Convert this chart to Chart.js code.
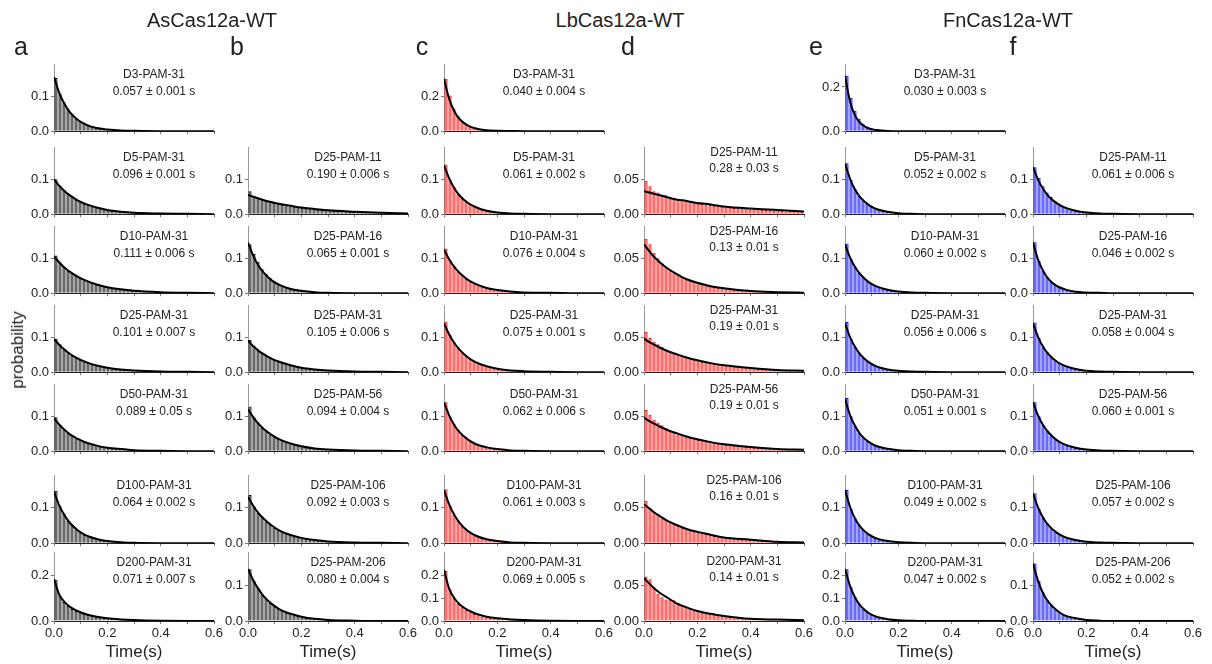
<!DOCTYPE html>
<html>
<head>
<meta charset="utf-8">
<script src="https://cdn.jsdelivr.net/npm/chart.js@4.4.1/dist/chart.umd.min.js"></script>
<style>
  body { margin: 0; background: #fff; }
  #fig { position: relative; width: 1212px; height: 664px; overflow: hidden; background: #fff;
         font-family: Arial, "Liberation Sans", sans-serif; color: #222; }
  .txt { position: absolute; white-space: nowrap; transform: translateX(-50%); text-align: center; }
  .lbl { font-size: 12px; line-height: 14px; }
  .head { font-family: "Liberation Sans Narrow", Arial, sans-serif; font-size: 20px; line-height: 24px; }
  .letter { font-size: 25px; line-height: 26px; }
  .axt { font-size: 17px; line-height: 18px; }
</style>
</head>
<body>
<div id="fig"></div>
<script>
// x categories: histogram bin centres (s) and the times where the fit curve is read
const binCenters = [0.0075, 0.0225, 0.0375, 0.0525, 0.0675, 0.0825, 0.0975, 0.1125, 0.1275, 0.1425,
  0.1575, 0.1725, 0.1875, 0.2025, 0.2175, 0.2325, 0.2475, 0.2625, 0.2775, 0.2925,
  0.3075, 0.3225, 0.3375, 0.3525, 0.3675, 0.3825, 0.3975, 0.4125, 0.4275, 0.4425,
  0.4575, 0.4725, 0.4875, 0.5025, 0.5175, 0.5325, 0.5475, 0.5625, 0.5775, 0.5925];
const fitTimes = [0, 0.02, 0.04, 0.06, 0.09, 0.12, 0.16, 0.2, 0.25, 0.3, 0.4, 0.5, 0.6];
const xTickLabels = ['0.0', '0.2', '0.4', '0.6'];

// AsCas12a-WT (a, b)
const barsA1 = [0.152,0.108,0.082,0.063,0.049,0.036,0.029,0.022,0.017,0.013,0.010,0.008,0.006,0.005,0.004,0.003,0.002,0.002,0.002,0.001,0.001,0.001,0.001,0.001,0,0.001,0,0.001,0,0.001,0,0,0.001,0,0,0,0,0.001,0,0];
const barsA2 = [0.100,0.082,0.070,0.059,0.051,0.041,0.037,0.030,0.027,0.022,0.020,0.016,0.014,0.012,0.010,0.009,0.008,0.006,0.006,0.005,0.004,0.004,0.003,0.003,0.002,0.002,0.002,0.001,0.001,0.001,0.001,0.001,0.001,0,0.001,0,0,0.001,0,0];
const barsA3 = [0.108,0.088,0.076,0.064,0.058,0.049,0.045,0.037,0.034,0.029,0.026,0.022,0.020,0.017,0.015,0.013,0.011,0.010,0.009,0.007,0.007,0.006,0.005,0.004,0.004,0.003,0.003,0.003,0.002,0.002,0.002,0.002,0.001,0.001,0.001,0.001,0.001,0.001,0.001,0];
const barsA4 = [0.096,0.080,0.064,0.058,0.047,0.043,0.035,0.032,0.026,0.024,0.019,0.018,0.014,0.013,0.011,0.010,0.008,0.007,0.006,0.005,0.005,0.004,0.003,0.003,0.003,0.002,0.002,0.002,0.001,0.001,0.001,0.001,0.001,0.001,0,0.001,0,0,0.001,0];
const barsA5 = [0.097,0.076,0.063,0.052,0.046,0.037,0.033,0.026,0.023,0.019,0.017,0.013,0.012,0.010,0.008,0.007,0.006,0.005,0.004,0.004,0.003,0.003,0.002,0.002,0.002,0.001,0.001,0.001,0.001,0.001,0.001,0,0.001,0,0,0.001,0,0,0,0];
const barsA6 = [0.148,0.104,0.084,0.063,0.052,0.039,0.033,0.024,0.020,0.015,0.013,0.010,0.008,0.006,0.005,0.004,0.003,0.003,0.002,0.002,0.001,0.001,0.001,0.001,0.001,0,0.001,0,0.001,0,0,0.001,0,0,0,0.001,0,0,0,0];
const barsA7 = [0.182,0.112,0.084,0.066,0.053,0.044,0.037,0.031,0.026,0.022,0.018,0.015,0.013,0.011,0.009,0.008,0.007,0.006,0.005,0.004,0.004,0.003,0.003,0.002,0.002,0.002,0.001,0.001,0.001,0.001,0.001,0.001,0.001,0,0.001,0,0,0.001,0,0];
const barsB2 = [0.066,0.052,0.046,0.044,0.038,0.037,0.032,0.031,0.027,0.027,0.023,0.022,0.021,0.018,0.018,0.016,0.015,0.013,0.013,0.012,0.011,0.010,0.009,0.009,0.008,0.007,0.007,0.006,0.006,0.005,0.005,0.004,0.004,0.004,0.004,0.003,0.003,0.003,0.003,0.002];
const barsB3 = [0.140,0.112,0.090,0.070,0.056,0.044,0.035,0.027,0.022,0.017,0.014,0.011,0.009,0.007,0.005,0.004,0.003,0.003,0.002,0.002,0.001,0.001,0.001,0.001,0.001,0.001,0,0.001,0,0.001,0,0,0.001,0,0,0,0,0,0,0];
const barsB4 = [0.092,0.076,0.062,0.056,0.047,0.042,0.035,0.032,0.026,0.024,0.020,0.018,0.015,0.013,0.012,0.010,0.009,0.007,0.007,0.006,0.005,0.004,0.004,0.003,0.003,0.002,0.002,0.002,0.002,0.001,0.001,0.001,0.001,0.001,0.001,0.001,0,0,0.001,0];
const barsB5 = [0.128,0.097,0.082,0.067,0.060,0.048,0.043,0.035,0.031,0.026,0.023,0.019,0.017,0.014,0.012,0.010,0.009,0.007,0.006,0.005,0.005,0.004,0.003,0.003,0.002,0.002,0.002,0.001,0.001,0.001,0.001,0.001,0.001,0.001,0,0,0.001,0,0,0];
const barsB6 = [0.136,0.104,0.086,0.075,0.061,0.054,0.044,0.039,0.032,0.028,0.023,0.020,0.017,0.014,0.012,0.010,0.009,0.007,0.006,0.005,0.005,0.004,0.003,0.003,0.002,0.002,0.002,0.001,0.001,0.001,0.001,0.001,0.001,0,0.001,0,0,0.001,0,0];
const barsB7 = [0.144,0.112,0.092,0.074,0.063,0.050,0.044,0.035,0.030,0.024,0.021,0.016,0.014,0.012,0.010,0.008,0.007,0.005,0.005,0.004,0.003,0.003,0.002,0.002,0.002,0.001,0.001,0.001,0.001,0.001,0,0.001,0,0,0.001,0,0,0,0,0];

const fitA1 = [0.155,0.109,0.077,0.054,0.032,0.019,0.009,0.005,0.002,0.001,0,0,0];
const fitA2 = [0.100,0.081,0.066,0.054,0.039,0.029,0.019,0.012,0.007,0.004,0.002,0.001,0];
const fitA3 = [0.105,0.088,0.073,0.061,0.047,0.036,0.025,0.017,0.011,0.007,0.003,0.001,0];
const fitA4 = [0.095,0.078,0.064,0.052,0.039,0.029,0.019,0.013,0.008,0.005,0.002,0.001,0];
const fitA5 = [0.095,0.076,0.061,0.048,0.035,0.025,0.016,0.010,0.006,0.003,0.001,0,0];
const fitA6 = [0.145,0.106,0.078,0.057,0.036,0.022,0.012,0.006,0.003,0.001,0,0,0];
const fitA7 = [0.185,0.115,0.083,0.062,0.043,0.030,0.019,0.012,0.007,0.004,0.001,0,0];
const fitB2 = [0.055,0.050,0.045,0.040,0.034,0.029,0.024,0.019,0.015,0.011,0.007,0.004,0.002];
const fitB3 = [0.145,0.107,0.078,0.058,0.036,0.023,0.012,0.007,0.003,0.001,0,0,0];
const fitB4 = [0.090,0.074,0.061,0.051,0.038,0.029,0.020,0.013,0.008,0.005,0.002,0.001,0];
const fitB5 = [0.120,0.097,0.078,0.063,0.046,0.033,0.022,0.014,0.008,0.005,0.002,0.001,0];
const fitB6 = [0.130,0.105,0.084,0.068,0.049,0.035,0.023,0.015,0.009,0.005,0.002,0.001,0];
const fitB7 = [0.145,0.113,0.088,0.068,0.047,0.032,0.020,0.012,0.006,0.003,0.001,0,0];

// LbCas12a-WT (c, d)
const barsC1 = [0.300,0.205,0.130,0.088,0.058,0.040,0.027,0.019,0.013,0.009,0.006,0.004,0.003,0.002,0.002,0.001,0.001,0.001,0.001,0.001,0,0.001,0,0.001,0,0,0.001,0,0,0,0.001,0,0,0,0,0,0.001,0,0,0];
const barsC2 = [0.142,0.100,0.078,0.060,0.047,0.036,0.029,0.022,0.018,0.013,0.011,0.008,0.007,0.005,0.004,0.003,0.003,0.002,0.002,0.001,0.001,0.001,0.001,0.001,0,0.001,0,0.001,0,0,0.001,0,0,0,0,0.001,0,0,0,0];
const barsC3 = [0.128,0.095,0.077,0.062,0.052,0.041,0.035,0.028,0.024,0.019,0.016,0.013,0.011,0.009,0.007,0.006,0.005,0.004,0.003,0.003,0.002,0.002,0.002,0.001,0.001,0.001,0.001,0.001,0,0.001,0,0,0.001,0,0,0,0.001,0,0,0];
const barsC4 = [0.145,0.108,0.086,0.070,0.058,0.046,0.039,0.031,0.026,0.021,0.018,0.014,0.012,0.009,0.008,0.006,0.005,0.004,0.004,0.003,0.002,0.002,0.002,0.001,0.001,0.001,0.001,0.001,0.001,0,0.001,0,0,0.001,0,0,0,0,0.001,0];
const barsC5 = [0.140,0.099,0.078,0.061,0.046,0.038,0.029,0.023,0.018,0.014,0.011,0.009,0.007,0.005,0.004,0.003,0.003,0.002,0.002,0.001,0.001,0.001,0.001,0.001,0.001,0,0.001,0,0,0.001,0,0,0,0.001,0,0,0,0,0,0];
const barsC6 = [0.152,0.106,0.080,0.065,0.049,0.040,0.030,0.024,0.018,0.015,0.011,0.009,0.007,0.006,0.004,0.003,0.003,0.002,0.002,0.001,0.001,0.001,0.001,0.001,0.001,0.001,0,0,0.001,0,0,0.001,0,0,0,0,0,0.001,0,0];
const barsC7 = [0.220,0.140,0.100,0.076,0.060,0.048,0.039,0.031,0.025,0.020,0.016,0.013,0.011,0.009,0.007,0.006,0.005,0.004,0.003,0.003,0.002,0.002,0.002,0.001,0.001,0.001,0.001,0.001,0.001,0,0.001,0,0,0.001,0,0,0,0.001,0,0];
const barsD2 = [0.048,0.040,0.033,0.031,0.028,0.027,0.025,0.023,0.022,0.020,0.019,0.018,0.017,0.015,0.015,0.014,0.013,0.012,0.012,0.011,0.010,0.010,0.009,0.009,0.008,0.008,0.007,0.007,0.007,0.006,0.006,0.006,0.005,0.005,0.005,0.004,0.005,0.004,0.004,0.004];
const barsD3 = [0.078,0.070,0.058,0.050,0.043,0.038,0.033,0.030,0.027,0.023,0.021,0.019,0.016,0.015,0.013,0.012,0.010,0.009,0.008,0.007,0.007,0.006,0.005,0.005,0.004,0.004,0.003,0.003,0.003,0.002,0.002,0.002,0.002,0.001,0.001,0.001,0.001,0.001,0.001,0.001];
const barsD4 = [0.058,0.049,0.044,0.040,0.036,0.032,0.030,0.027,0.025,0.023,0.021,0.020,0.018,0.017,0.015,0.014,0.013,0.012,0.011,0.010,0.010,0.009,0.008,0.008,0.007,0.007,0.006,0.006,0.005,0.005,0.004,0.004,0.004,0.004,0.003,0.003,0.003,0.003,0.002,0.002];
const barsD5 = [0.059,0.052,0.045,0.041,0.037,0.033,0.029,0.028,0.024,0.023,0.021,0.019,0.018,0.016,0.016,0.014,0.013,0.012,0.011,0.011,0.009,0.009,0.008,0.007,0.007,0.006,0.006,0.005,0.005,0.005,0.004,0.004,0.004,0.003,0.003,0.003,0.003,0.002,0.002,0.002];
const barsD6 = [0.060,0.050,0.044,0.040,0.035,0.033,0.030,0.027,0.025,0.022,0.021,0.018,0.017,0.015,0.014,0.013,0.012,0.010,0.010,0.009,0.008,0.007,0.007,0.006,0.005,0.005,0.005,0.004,0.004,0.003,0.003,0.003,0.003,0.002,0.002,0.002,0.002,0.002,0.001,0.001];
const barsD7 = [0.062,0.058,0.047,0.038,0.033,0.030,0.030,0.029,0.025,0.022,0.020,0.017,0.015,0.014,0.012,0.011,0.010,0.009,0.008,0.008,0.007,0.006,0.006,0.005,0.004,0.004,0.004,0.003,0.003,0.003,0.002,0.002,0.002,0.002,0.002,0.001,0.001,0.001,0.001,0.001];

const fitC1 = [0.300,0.182,0.110,0.067,0.032,0.015,0.005,0.002,0.001,0,0,0,0];
const fitC2 = [0.140,0.101,0.073,0.052,0.032,0.020,0.010,0.005,0.002,0.001,0,0,0];
const fitC3 = [0.125,0.096,0.074,0.057,0.038,0.026,0.015,0.009,0.005,0.002,0.001,0,0];
const fitC4 = [0.140,0.107,0.082,0.063,0.042,0.028,0.017,0.010,0.005,0.003,0.001,0,0];
const fitC5 = [0.140,0.101,0.073,0.053,0.033,0.020,0.011,0.006,0.002,0.001,0,0,0];
const fitC6 = [0.150,0.108,0.078,0.056,0.034,0.021,0.011,0.006,0.002,0.001,0,0,0];
const fitC7 = [0.225,0.140,0.098,0.072,0.048,0.032,0.019,0.012,0.007,0.004,0.001,0,0];
const fitD2 = [0.033,0.031,0.029,0.027,0.024,0.021,0.019,0.016,0.014,0.011,0.008,0.006,0.004];
const fitD3 = [0.070,0.060,0.051,0.044,0.035,0.028,0.020,0.015,0.010,0.007,0.003,0.0015,0.0007];
const fitD4 = [0.048,0.043,0.039,0.035,0.030,0.026,0.021,0.017,0.013,0.010,0.006,0.003,0.002];
const fitD5 = [0.048,0.043,0.039,0.035,0.030,0.026,0.021,0.017,0.013,0.010,0.006,0.003,0.002];
const fitD6 = [0.055,0.049,0.043,0.038,0.031,0.026,0.020,0.016,0.012,0.008,0.005,0.002,0.001];
const fitD7 = [0.060,0.052,0.045,0.039,0.032,0.025,0.019,0.014,0.010,0.007,0.003,0.002,0.001];

// FnCas12a-WT (e, f)
const barsE1 = [0.250,0.150,0.092,0.056,0.034,0.021,0.013,0.008,0.005,0.003,0.003,0.002,0.002,0.002,0.001,0.002,0.001,0.001,0.001,0.001,0.001,0.001,0,0.001,0.001,0,0.001,0,0,0.001,0,0.001,0,0,0.001,0,0,0,0,0.001];
const barsE2 = [0.146,0.098,0.072,0.052,0.040,0.030,0.022,0.017,0.013,0.009,0.007,0.005,0.004,0.003,0.002,0.002,0.001,0.002,0.001,0.001,0.001,0.001,0.001,0,0.001,0,0.001,0,0,0.001,0,0,0.001,0,0,0,0,0,0.001,0];
const barsE3 = [0.142,0.098,0.076,0.058,0.046,0.035,0.028,0.021,0.017,0.013,0.010,0.008,0.006,0.005,0.004,0.003,0.002,0.002,0.001,0.001,0.001,0.001,0.001,0.001,0,0.001,0,0,0.001,0,0,0.001,0,0,0,0,0.001,0,0,0];
const barsE4 = [0.144,0.096,0.072,0.055,0.042,0.032,0.025,0.019,0.014,0.011,0.008,0.006,0.005,0.004,0.003,0.002,0.002,0.001,0.001,0.001,0.001,0.001,0,0.001,0.001,0,0.001,0,0,0.001,0,0,0,0.001,0,0,0,0,0,0];
const barsE5 = [0.152,0.100,0.073,0.053,0.041,0.029,0.023,0.016,0.013,0.009,0.007,0.005,0.004,0.003,0.002,0.002,0.001,0.001,0.001,0.001,0.001,0,0.001,0.001,0,0.001,0,0,0.001,0,0,0,0.001,0,0,0,0,0,0,0];
const barsE6 = [0.150,0.097,0.070,0.052,0.037,0.028,0.021,0.015,0.011,0.008,0.006,0.005,0.003,0.003,0.002,0.002,0.001,0.001,0.001,0.001,0.001,0.001,0,0.001,0,0.001,0,0,0.001,0,0,0.001,0,0,0,0,0,0.001,0,0];
const barsE7 = [0.228,0.150,0.106,0.076,0.055,0.040,0.029,0.021,0.015,0.011,0.008,0.006,0.004,0.003,0.002,0.002,0.001,0.001,0.001,0.001,0.001,0,0.001,0.001,0,0,0.001,0,0,0.001,0,0,0,0,0.001,0,0,0,0,0];
const barsF2 = [0.134,0.104,0.080,0.062,0.049,0.038,0.030,0.023,0.018,0.014,0.011,0.009,0.007,0.005,0.004,0.004,0.003,0.002,0.002,0.003,0.002,0.001,0.001,0.001,0.001,0.001,0.001,0,0.001,0.001,0,0,0.001,0,0,0.001,0,0,0,0];
const barsF3 = [0.146,0.092,0.065,0.047,0.033,0.024,0.018,0.013,0.009,0.007,0.005,0.003,0.003,0.002,0.001,0.001,0.001,0.001,0.001,0,0.001,0.001,0,0.001,0,0,0.001,0,0,0.001,0,0,0,0.001,0,0,0,0,0,0];
const barsF4 = [0.142,0.098,0.074,0.057,0.044,0.034,0.026,0.020,0.016,0.012,0.009,0.007,0.006,0.004,0.003,0.003,0.002,0.002,0.001,0.001,0.001,0.001,0.001,0,0.001,0,0.001,0,0.001,0,0,0.001,0,0,0,0,0.001,0,0,0];
const barsF5 = [0.140,0.100,0.075,0.059,0.045,0.036,0.027,0.022,0.016,0.013,0.010,0.008,0.006,0.005,0.004,0.003,0.002,0.002,0.002,0.001,0.001,0.001,0.001,0,0.001,0.001,0,0,0.001,0,0,0.001,0,0,0,0.001,0,0,0,0];
const barsF6 = [0.141,0.097,0.073,0.056,0.043,0.033,0.025,0.020,0.015,0.012,0.009,0.007,0.005,0.004,0.003,0.003,0.002,0.001,0.001,0.001,0.001,0.001,0.001,0,0.001,0,0,0.001,0,0,0.001,0,0,0,0.001,0,0,0,0,0];
const barsF7 = [0.160,0.112,0.080,0.059,0.044,0.033,0.025,0.018,0.014,0.010,0.008,0.006,0.004,0.003,0.003,0.002,0.002,0.001,0.001,0.001,0.001,0.001,0,0.001,0,0.001,0,0,0.001,0,0,0,0.001,0,0,0,0,0,0,0];

const fitE1 = [0.250,0.128,0.066,0.034,0.012,0.005,0.001,0,0,0,0,0,0];
const fitE2 = [0.145,0.099,0.067,0.046,0.026,0.014,0.007,0.003,0.001,0,0,0,0];
const fitE3 = [0.140,0.100,0.072,0.052,0.031,0.019,0.010,0.005,0.002,0.001,0,0,0];
const fitE4 = [0.140,0.098,0.069,0.048,0.028,0.016,0.008,0.004,0.002,0.001,0,0,0];
const fitE5 = [0.150,0.101,0.069,0.046,0.026,0.014,0.007,0.003,0.001,0,0,0,0];
const fitE6 = [0.150,0.100,0.066,0.044,0.024,0.013,0.006,0.003,0.001,0,0,0,0];
const fitE7 = [0.230,0.150,0.098,0.064,0.034,0.018,0.008,0.003,0.001,0,0,0,0];
const fitF2 = [0.135,0.097,0.070,0.050,0.031,0.019,0.010,0.005,0.002,0.001,0,0,0];
const fitF3 = [0.145,0.094,0.061,0.039,0.020,0.011,0.004,0.002,0.001,0,0,0,0];
const fitF4 = [0.140,0.099,0.070,0.050,0.030,0.018,0.009,0.004,0.002,0.001,0,0,0];
const fitF5 = [0.140,0.100,0.072,0.052,0.031,0.019,0.010,0.005,0.002,0.001,0,0,0];
const fitF6 = [0.140,0.099,0.069,0.049,0.029,0.017,0.009,0.004,0.002,0.001,0,0,0];
const fitF7 = [0.160,0.109,0.074,0.051,0.029,0.015,0.008,0.003,0.001,0,0,0,0];

// panel texts
const namesA = ['D3-PAM-31', 'D5-PAM-31', 'D10-PAM-31', 'D25-PAM-31', 'D50-PAM-31', 'D100-PAM-31', 'D200-PAM-31'];
const tausA = ['0.057 ± 0.001 s', '0.096 ± 0.001 s', '0.111 ± 0.006 s', '0.101 ± 0.007 s', '0.089 ± 0.05 s', '0.064 ± 0.002 s', '0.071 ± 0.007 s'];
const namesB = ['D25-PAM-11', 'D25-PAM-16', 'D25-PAM-31', 'D25-PAM-56', 'D25-PAM-106', 'D25-PAM-206'];
const tausB = ['0.190 ± 0.006 s', '0.065 ± 0.001 s', '0.105 ± 0.006 s', '0.094 ± 0.004 s', '0.092 ± 0.003 s', '0.080 ± 0.004 s'];
const namesC = ['D3-PAM-31', 'D5-PAM-31', 'D10-PAM-31', 'D25-PAM-31', 'D50-PAM-31', 'D100-PAM-31', 'D200-PAM-31'];
const tausC = ['0.040 ± 0.004 s', '0.061 ± 0.002 s', '0.076 ± 0.004 s', '0.075 ± 0.001 s', '0.062 ± 0.006 s', '0.061 ± 0.003 s', '0.069 ± 0.005 s'];
const namesD = ['D25-PAM-11', 'D25-PAM-16', 'D25-PAM-31', 'D25-PAM-56', 'D25-PAM-106', 'D200-PAM-31'];
const tausD = ['0.28 ± 0.03 s', '0.13 ± 0.01 s', '0.19 ± 0.01 s', '0.19 ± 0.01 s', '0.16 ± 0.01 s', '0.14 ± 0.01 s'];
const namesE = ['D3-PAM-31', 'D5-PAM-31', 'D10-PAM-31', 'D25-PAM-31', 'D50-PAM-31', 'D100-PAM-31', 'D200-PAM-31'];
const tausE = ['0.030 ± 0.003 s', '0.052 ± 0.002 s', '0.060 ± 0.002 s', '0.056 ± 0.006 s', '0.051 ± 0.001 s', '0.049 ± 0.002 s', '0.047 ± 0.002 s'];
const namesF = ['D25-PAM-11', 'D25-PAM-16', 'D25-PAM-31', 'D25-PAM-56', 'D25-PAM-106', 'D25-PAM-206'];
const tausF = ['0.061 ± 0.006 s', '0.046 ± 0.002 s', '0.058 ± 0.004 s', '0.060 ± 0.001 s', '0.057 ± 0.002 s', '0.052 ± 0.002 s'];

const groupTitles = ['AsCas12a-WT', 'LbCas12a-WT', 'FnCas12a-WT'];
const panelLetters = ['a', 'b', 'c', 'd', 'e', 'f'];

// layout (px)
const rowTop = [63, 146, 225, 304, 383, 474, 551];
const rowBase = [133, 216, 295, 374, 453, 545, 621];
const colLeft = { a: 54, b: 248, c: 444, d: 644, e: 845, f: 1033 };
const plotW = 160;

const styles = {
  gray: { fill: '#474747', edge: '#0a0a0a' },
  red: { fill: '#ff5050', edge: '#ff0000' },
  blue: { fill: '#4848ff', edge: '#0000ff' }
};

const FONT = 'Arial, "Liberation Sans", sans-serif';
const fig = document.getElementById('fig');

const panels = [];
const addCol = (col, firstRow, bars, fits, names, taus, color, yMaxes, yTicks) => {
  bars.forEach((b, i) => {
    panels.push({ col, row: firstRow + i, bars: b, fit: fits[i], name: names[i], tau: taus[i],
      color, yMax: yMaxes[i], yTicks: yTicks[i] });
  });
};

const t01 = [0, 0.1], t02 = [0, 0.2], t012 = [0, 0.1, 0.2], t005 = [0, 0.05];
addCol('a', 0, [barsA1, barsA2, barsA3, barsA4, barsA5, barsA6, barsA7],
  [fitA1, fitA2, fitA3, fitA4, fitA5, fitA6, fitA7], namesA, tausA, 'gray',
  [0.19, 0.19, 0.19, 0.19, 0.19, 0.19, 0.30], [t01, t01, t01, t01, t01, t01, t02]);
addCol('b', 1, [barsB2, barsB3, barsB4, barsB5, barsB6, barsB7],
  [fitB2, fitB3, fitB4, fitB5, fitB6, fitB7], namesB, tausB, 'gray',
  [0.19, 0.19, 0.19, 0.19, 0.19, 0.19], [t01, t01, t01, t01, t01, t01]);
addCol('c', 0, [barsC1, barsC2, barsC3, barsC4, barsC5, barsC6, barsC7],
  [fitC1, fitC2, fitC3, fitC4, fitC5, fitC6, fitC7], namesC, tausC, 'red',
  [0.38, 0.19, 0.19, 0.19, 0.19, 0.19, 0.30], [t02, t01, t01, t01, t01, t01, t012]);
addCol('d', 1, [barsD2, barsD3, barsD4, barsD5, barsD6, barsD7],
  [fitD2, fitD3, fitD4, fitD5, fitD6, fitD7], namesD, tausD, 'red',
  [0.095, 0.095, 0.095, 0.095, 0.095, 0.095], [t005, t005, t005, t005, t005, t005]);
addCol('e', 0, [barsE1, barsE2, barsE3, barsE4, barsE5, barsE6, barsE7],
  [fitE1, fitE2, fitE3, fitE4, fitE5, fitE6, fitE7], namesE, tausE, 'blue',
  [0.30, 0.19, 0.19, 0.19, 0.19, 0.19, 0.30], [t02, t01, t01, t01, t01, t01, t012]);
addCol('f', 1, [barsF2, barsF3, barsF4, barsF5, barsF6, barsF7],
  [fitF2, fitF3, fitF4, fitF5, fitF6, fitF7], namesF, tausF, 'blue',
  [0.19, 0.19, 0.19, 0.19, 0.19, 0.19], [t01, t01, t01, t01, t01, t01]);

const addText = (cls, text, x, y, extra) => {
  const el = document.createElement('div');
  el.className = 'txt ' + cls;
  el.textContent = text;
  el.style.left = x + 'px';
  el.style.top = y + 'px';
  if (extra) Object.assign(el.style, extra);
  fig.appendChild(el);
};

const makePanel = (p) => {
  const padL = 40, padR = 14, padT = 8;
  const bottomRow = p.row === 6;
  const padB = bottomRow ? 24 : 8;
  const top = rowTop[p.row], base = rowBase[p.row];
  const w = plotW + padL + padR, h = base - top + padT + padB;
  const canvas = document.createElement('canvas');
  canvas.width = w;
  canvas.height = h;
  canvas.style.cssText = `position:absolute;left:${colLeft[p.col] - padL}px;top:${top - padT}px;width:${w}px;height:${h}px`;
  fig.appendChild(canvas);
  const st = styles[p.color];
  const digits = p.col === 'd' ? 2 : 1;

  new Chart(canvas, {
    type: 'bar',
    data: {
      datasets: [
        {
          type: 'line',
          data: fitTimes.map((t, i) => ({ x: t, y: p.fit[i] })),
          borderColor: '#000',
          borderWidth: 2,
          pointRadius: 0,
          cubicInterpolationMode: 'monotone',
          order: 0
        },
        {
          type: 'bar',
          data: binCenters.map((t, i) => ({ x: t, y: p.bars[i] })),
          backgroundColor: st.fill,
          borderColor: st.edge,
          borderWidth: 1,
          borderSkipped: 'start',
          barPercentage: 0.8,
          categoryPercentage: 1,
          order: 1
        }
      ]
    },
    options: {
      responsive: false,
      animation: false,
      devicePixelRatio: 1,
      layout: { padding: { top: padT, right: padR, left: 0, bottom: 0 } },
      plugins: { legend: { display: false }, tooltip: { enabled: false } },
      scales: {
        x: {
          type: 'linear', min: 0, max: 0.6, offset: false,
          grid: { drawOnChartArea: false, drawTicks: true, tickLength: 3, color: '#777', offset: false },
          border: { display: true, color: '#222', width: 1 },
          ticks: {
            stepSize: 0.1, autoSkip: false, maxRotation: 0, padding: 2, color: '#222',
            font: { size: 13, family: FONT },
            callback: (v) => {
              const s = Number(v).toFixed(1);
              return bottomRow && xTickLabels.includes(s) ? s : '';
            }
          },
          afterFit: (s) => { s.height = padB; }
        },
        y: {
          min: 0, max: p.yMax,
          grid: { drawOnChartArea: false, drawTicks: true, tickLength: 3, color: '#777' },
          border: { display: true, color: '#999', width: 1 },
          ticks: { padding: 2, color: '#222', font: { size: 13, family: FONT },
            callback: (v) => Number(v).toFixed(digits) },
          afterBuildTicks: (s) => { s.ticks = p.yTicks.map((v) => ({ value: v })); },
          afterFit: (s) => { s.width = padL; }
        }
      }
    }
  });

  const cx = colLeft[p.col] + 100;
  let o1 = 11, o2 = 28;
  if (p.col === 'd') { o1 = p.row === 6 ? 10 : 6; o2 = p.row === 6 ? 26 : 22; }
  addText('lbl', p.name, cx, top + o1 - 7);
  addText('lbl', p.tau, cx, top + o2 - 7);
};

panels.forEach(makePanel);

// headings, letters, axis titles
addText('head', groupTitles[0], 212, 8);
addText('head', groupTitles[1], 620, 8);
addText('head', groupTitles[2], 1008, 8);
const letterX = [21, 237, 422, 628, 816, 1013];
panelLetters.forEach((l, i) => addText('letter', l, letterX[i], 33));
Object.keys(colLeft).forEach((c) => addText('axt', 'Time(s)', colLeft[c] + plotW / 2, 643));
addText('axt', 'probability', 18, 341, { transform: 'translateX(-50%) rotate(-90deg)' });
</script>
</body>
</html>
